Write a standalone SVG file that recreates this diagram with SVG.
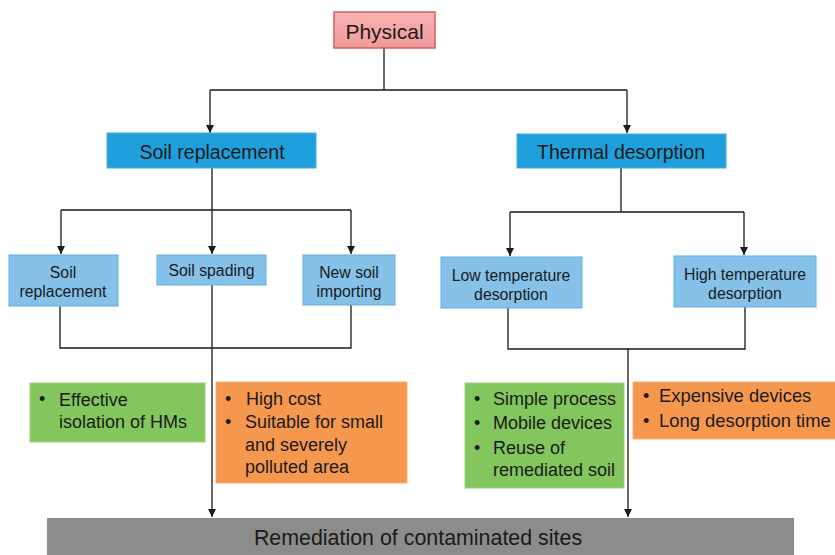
<svg xmlns="http://www.w3.org/2000/svg" width="835" height="555" viewBox="0 0 835 555">
<style>
text{font-family:"Liberation Sans",Arial,sans-serif;fill:#1a1a1a}
.big{font-size:19.5px;text-anchor:middle}
.sm{font-size:15.8px;text-anchor:middle}
.bl{font-size:18px}
.dark{fill:#1f9fdb;stroke:#45b0e3;stroke-width:1}
.light{fill:#85c1e8;stroke:#62aee0;stroke-width:1}
.green{fill:#83c65d;stroke:#9dd27f;stroke-width:1}
.orange{fill:#f5984e;stroke:#f7ad74;stroke-width:1}
.ln{fill:none;stroke:#1a1a1a;stroke-width:1.3}
.ar{marker-end:url(#arr)}
</style>
<defs>
<marker id="arr" viewBox="0 0 10 10" refX="10" refY="5" markerWidth="8" markerHeight="8" markerUnits="userSpaceOnUse" orient="auto">
<path d="M0,0 L10,5 L0,10 Z" fill="#1a1a1a"/>
</marker>
<linearGradient id="pk" x1="0" y1="0" x2="0" y2="1">
<stop offset="0" stop-color="#f7b3b3"/>
<stop offset="1" stop-color="#f09a9a"/>
</linearGradient>
</defs>
<g id="connectors">
<path class="ln" d="M384,48 V90 M210,90 H627"/>
<path class="ln ar" d="M210,90 V133"/>
<path class="ln ar" d="M627,90 V133"/>
<path class="ln" d="M212,168 V210 M61,210 H351"/>
<path class="ln ar" d="M61,210 V254"/>
<path class="ln ar" d="M212,210 V254"/>
<path class="ln ar" d="M351,210 V254"/>
<path class="ln" d="M621,168 V212 M510,212 H744"/>
<path class="ln ar" d="M510,212 V256"/>
<path class="ln ar" d="M744,212 V255"/>
<path class="ln" d="M60,306 V348 H351 V305"/>
<path class="ln ar" d="M212,285 V517"/>
<path class="ln" d="M508,308 V349 H745 V307"/>
<path class="ln ar" d="M628,349 V517"/>
</g>
<g id="physical">
<rect x="334" y="12" width="101" height="36" fill="url(#pk)" stroke="#d0605f" stroke-width="1.5"/>
<text x="384.5" y="39" style="font-size:21px;text-anchor:middle">Physical</text>
</g>
<g id="soil-replacement">
<rect class="dark" x="107" y="133" width="209" height="35"/>
<text class="big" x="212" y="158.5">Soil replacement</text>
</g>
<g id="thermal-desorption">
<rect class="dark" x="517" y="134" width="209" height="34"/>
<text class="big" x="621" y="159">Thermal desorption</text>
</g>
<g id="soil-replacement-2">
<rect class="light" x="9" y="255" width="109" height="51"/>
<text class="sm" x="63" y="278">Soil</text>
<text class="sm" x="63" y="297">replacement</text>
</g>
<g id="soil-spading">
<rect class="light" x="157" y="255" width="109" height="30"/>
<text class="sm" x="211.5" y="276">Soil spading</text>
</g>
<g id="new-soil-importing">
<rect class="light" x="303" y="255" width="92" height="50"/>
<text class="sm" x="349" y="278">New soil</text>
<text class="sm" x="349" y="297">importing</text>
</g>
<g id="low-temp">
<rect class="light" x="441" y="257" width="141" height="51"/>
<text class="sm" x="511" y="281">Low temperature</text>
<text class="sm" x="511" y="300">desorption</text>
</g>
<g id="high-temp">
<rect class="light" x="674" y="256" width="142" height="51"/>
<text class="sm" x="745" y="280">High temperature</text>
<text class="sm" x="745" y="299">desorption</text>
</g>
<g id="pros-soil">
<rect class="green" x="30" y="383" width="175" height="59"/>
<text class="bl" x="39" y="405">•</text>
<text class="bl" x="59" y="406">Effective</text>
<text class="bl" x="59" y="428">isolation of HMs</text>
</g>
<g id="cons-soil">
<rect class="orange" x="216" y="382" width="191" height="101"/>
<text class="bl" x="225" y="405">•</text>
<text class="bl" x="246" y="405">High cost</text>
<text class="bl" x="225" y="428">•</text>
<text class="bl" x="245" y="428">Suitable for small</text>
<text class="bl" x="245" y="451">and severely</text>
<text class="bl" x="245" y="473">polluted area</text>
</g>
<g id="pros-thermal">
<rect class="green" x="465" y="383" width="159" height="105"/>
<text class="bl" x="474" y="405">•</text>
<text class="bl" x="493" y="405">Simple process</text>
<text class="bl" x="474" y="429">•</text>
<text class="bl" x="493" y="429">Mobile devices</text>
<text class="bl" x="474" y="454">•</text>
<text class="bl" x="493" y="454">Reuse of</text>
<text class="bl" x="493" y="476">remediated soil</text>
</g>
<g id="cons-thermal">
<rect class="orange" x="633" y="382" width="210" height="57"/>
<text class="bl" x="643" y="402">•</text>
<text class="bl" x="659" y="402" style="font-size:18.4px">Expensive devices</text>
<text class="bl" x="643" y="427">•</text>
<text class="bl" x="659" y="427" style="font-size:18.4px">Long desorption time</text>
</g>
<g id="remediation">
<rect x="47" y="518" width="747" height="45" fill="#8c8c8c"/>
<text x="418" y="545" style="font-size:21.4px;text-anchor:middle">Remediation of contaminated sites</text>
</g>
</svg>
